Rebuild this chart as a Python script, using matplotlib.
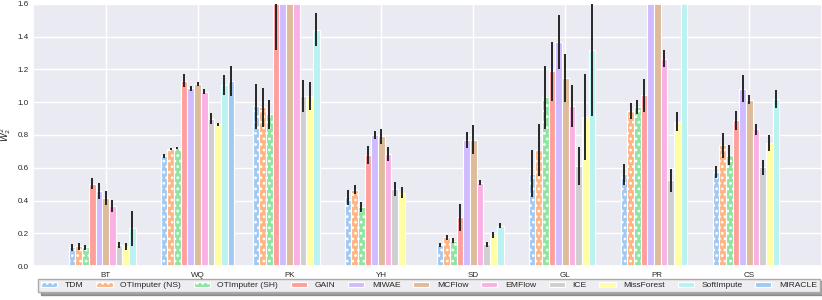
import numpy as np
import matplotlib.pyplot as plt
import seaborn as sns

# Datasets and methods
datasets = ["BT", "WQ", "PK", "YH", "SD", "GL", "PR", "CS"]
methods = ["TDM", "OTImputer (NS)", "OTImputer (SH)", "GAIN", "MIWAE", "MCFlow",
           "EMFlow", "ICE", "MissForest", "SoftImpute", "MIRACLE"]

nan = np.nan
# mean W2^2 per method (rows) and dataset (columns)
tdm = [0.114, 0.67, 0.976, 0.419, 0.13, 0.565, 0.559, 0.575]
ot_ns = [0.12, 0.715, 0.968, 0.467, 0.175, 0.707, 0.947, 0.738]
ot_sh = [0.115, 0.72, 0.927, 0.36, 0.155, 1.029, 0.971, 0.677]
gain = [0.504, 1.13, 1.75, 0.677, 0.297, 1.189, 1.043, 0.89]
miwae = [0.457, 1.085, 2.0, 0.80, 0.768, 1.368, 2.0, 1.083]
mcflow = [0.416, 1.11, 2.0, 0.793, 0.772, 1.148, 2.0, 1.016]
emflow = [0.366, 1.065, 2.0, 0.683, 0.51, 0.976, 1.266, 0.835]
ice = [0.128, 0.90, 1.037, 0.47, 0.132, 0.61, 0.524, 0.602]
missforest = [0.12, 0.865, 1.037, 0.447, 0.19, 0.91, 0.88, 0.752]
softimpute = [0.23, 1.105, 1.443, nan, 0.246, 1.321, 2.0, 1.018]
miracle = [nan, 1.13, nan, nan, nan, nan, nan, nan]

# half-width of the error bars
tdm_err = [0.02, 0.012, 0.138, 0.045, 0.013, 0.145, 0.067, 0.035]
ot_ns_err = [0.02, 0.008, 0.12, 0.027, 0.015, 0.158, 0.05, 0.076]
ot_sh_err = [0.015, 0.008, 0.088, 0.03, 0.015, 0.193, 0.044, 0.061]
gain_err = [0.035, 0.04, 0.43, 0.055, 0.08, 0.18, 0.10, 0.057]
miwae_err = [0.05, 0.015, 0.0, 0.022, 0.05, 0.163, 0.0, 0.083]
mcflow_err = [0.045, 0.012, 0.0, 0.045, 0.088, 0.148, 0.0, 0.028]
emflow_err = [0.035, 0.015, 0.0, 0.043, 0.015, 0.127, 0.053, 0.032]
ice_err = [0.018, 0.035, 0.097, 0.044, 0.013, 0.118, 0.069, 0.045]
missforest_err = [0.02, 0.01, 0.085, 0.033, 0.02, 0.263, 0.058, 0.051]
softimpute_err = [0.108, 0.06, 0.1, nan, 0.015, 0.405, 0.0, 0.055]
miracle_err = [nan, 0.09, nan, nan, nan, nan, nan, nan]

values = [tdm, ot_ns, ot_sh, gain, miwae, mcflow, emflow, ice, missforest,
          softimpute, miracle]
errors = [tdm_err, ot_ns_err, ot_sh_err, gain_err, miwae_err, mcflow_err,
          emflow_err, ice_err, missforest_err, softimpute_err, miracle_err]

###############################################################################
# Plot

sns.set_theme(style="darkgrid")
plt.rcParams['font.family'] = ['Liberation Sans', 'DejaVu Sans']
plt.rcParams['hatch.linewidth'] = 1.2

pal = sns.color_palette("pastel", 10)
colors = list(pal) + [pal[0]]
hatches = ["...", "...", "..."] + [None] * 8

fig = plt.figure(figsize=(8.22, 3.0), dpi=100)
ax = fig.add_axes([0.040, 0.113, 0.960, 0.874])

x = np.arange(len(datasets))
n = len(methods)
total = 0.8
w = total / n
for i, (name, vals, errs) in enumerate(zip(methods, values, errors)):
    pos = x - total / 2 + w * (i + 0.5)
    ax.bar(pos, vals, width=w, color=colors[i], edgecolor="white",
           linewidth=0.8, hatch=hatches[i], label=name, zorder=2)
    ax.errorbar(pos, vals, yerr=errs, fmt="none", ecolor="#262626",
                elinewidth=1.4, capsize=0, zorder=3)

ax.set_xlim(-0.79, 7.79)
ax.set_ylim(0, 1.6)
ax.set_yticks(np.arange(0, 1.61, 0.2))
ax.set_xticks(x)
ax.set_xticklabels(datasets)
ax.tick_params(axis="y", labelsize=5.8, pad=3, length=0)
ax.tick_params(axis="x", labelsize=5.8, pad=4, length=0)
ax.set_ylabel("$W_2^2$", fontsize=6.5, labelpad=3)

# legend in a framed strip below the axes
handles, labels = ax.get_legend_handles_labels()
leg = fig.legend(handles, labels, loc="lower center",
                 bbox_to_anchor=(0.522, 0.012), ncol=11,
                 fontsize=6.1, frameon=True, shadow=True, handlelength=1.9,
                 handleheight=0.6, columnspacing=1.5, borderpad=0.35,
                 handletextpad=0.9, fancybox=False)
leg.get_frame().set_facecolor("#eeeef2")
leg.get_frame().set_edgecolor("#aaaaaa")

fig.savefig("out.png", dpi=100)
